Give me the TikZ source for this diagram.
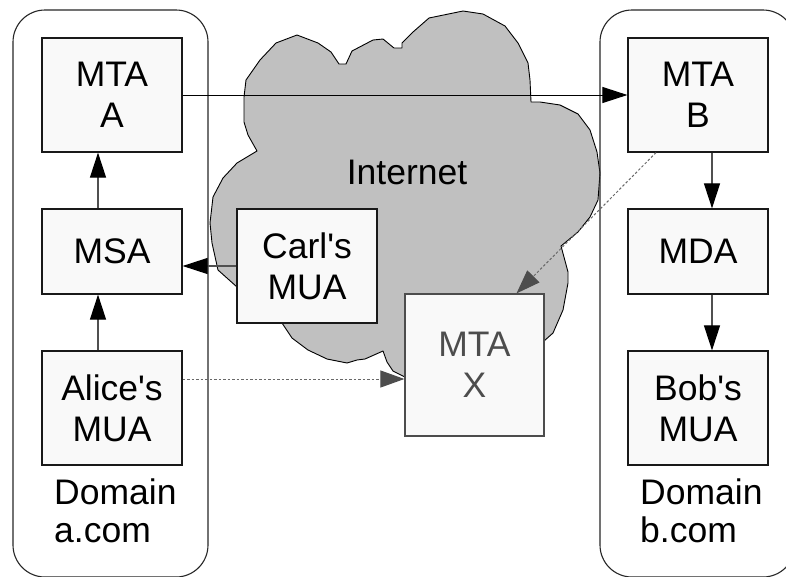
\documentclass[tikz,border=0pt]{standalone}
\usepackage{fontspec}
\setmainfont{Liberation Sans}
\usetikzlibrary{arrows.meta}
\definecolor{boxfill}{HTML}{F9F9F9}
\definecolor{cloudfill}{HTML}{C0C0C0}
\definecolor{dimgrey}{HTML}{4D4D4D}
\definecolor{linegrey}{HTML}{505050}
\newcommand{\apos}{\textquotesingle}
\tikzset{
  lbl/.style={font=\fontsize{35.5}{41}\selectfont},
  unit/.style={lbl, draw=black!90, line width=1.2pt, fill=boxfill,
    minimum width=140pt, minimum height=114pt, inner sep=0pt, align=center},
  shortunit/.style={unit, minimum height=85pt},
  remote/.style={unit, draw=dimgrey, text=dimgrey,
    minimum width=139pt, minimum height=142pt},
  maildomain/.style={draw=black!85, line width=1.1pt, rounded corners=32pt},
  domtext/.style={font=\fontsize{35.5}{38}\selectfont, align=left,
    inner sep=0pt, anchor=north west},
  flow/.style={draw=linegrey, line width=1.1pt,
    -{Triangle[length=25pt,width=16pt,color=black]}},
  relay/.style={draw=dimgrey!85, line width=1pt, dash pattern=on 2.5pt off 2pt,
    -{Triangle[length=24pt,width=17pt,color=dimgrey]}}
}
\begin{document}
\begin{tikzpicture}[x=1pt,y=-1pt]
\useasboundingbox (0,0) rectangle (786,576);
\clip (0,0) rectangle (786,576);

% the Internet cloud
\filldraw[fill=cloudfill, draw=black, line width=0.9pt, line join=round]
  (246,80) -- (260,60) -- (276,43) -- (297,35) -- (318,43) -- (331,52)
  -- (339,64) -- (346,64) -- (352,51) -- (373,40) -- (383,39) -- (394,48)
  -- (402,48) -- (402,43) -- (413,32) -- (429,18) -- (463,11) -- (483,14)
  -- (505,26) -- (518,43) -- (528,63) -- (530,80) -- (531,102) -- (540,102)
  -- (560,105) -- (578,114) -- (590,130) -- (597,152) -- (600,173)
  -- (598,200) -- (590,217) -- (578,232) -- (561,246) -- (568,272)
  -- (568,283) -- (563,310) -- (553,333) -- (544,341) -- (405,377)
  -- (393,371) -- (387,362) -- (383,351) -- (365,359) -- (357,360)
  -- (347,363) -- (327,359) -- (308,350) -- (292,338) -- (282,323)
  -- (237,287) -- (218,270) -- (212,243) -- (210,223) -- (213,197)
  -- (223,178) -- (237,163) -- (257,151) -- (248,135) -- (244,122)
  -- (244,97) -- cycle;
\node[lbl] (inet) at (407,172) {Internet};

% the two mail domains
\draw[maildomain] (13,10) rectangle (208,577);
\draw[maildomain] (600,10) rectangle (795,577);
\node[domtext] (doma) at (54,479) {Domain\\a.com};
\node[domtext] (domb) at (640,479) {Domain\\b.com};

% agents
\node[unit] (mtaa) at (112,95) {MTA\\A};
\node[shortunit] (msa) at (112,251.5) {MSA};
\node[unit] (alice) at (112,408) {Alice\apos s\\MUA};
\node[unit] (mtab) at (698,95) {MTA\\B};
\node[shortunit] (mda) at (698,251.5) {MDA};
\node[unit] (bob) at (698,408) {Bob\apos s\\MUA};
\node[unit] (carl) at (307,266) {Carl\apos s\\MUA};
\node[remote] (mtax) at (474.5,365) {MTA\\X};

% mail flow
\draw[flow, draw=black, line width=1pt] (mtaa.east) -- (mtab.west);
\draw[flow] ([xshift=-14pt]msa.north) -- ([xshift=-14pt]mtaa.south);
\draw[flow] ([xshift=-14pt]alice.north) -- ([xshift=-14pt]msa.south);
\draw[flow] (carl.west) -- (carl.west -| msa.east);
\draw[flow] ([xshift=14pt]mtab.south) -- ([xshift=14pt]mda.north);
\draw[flow] ([xshift=14pt]mda.south) -- ([xshift=14pt]bob.north);

% relaying through a third party
\draw[relay] ([xshift=-42pt]mtab.south) -- ([xshift=42pt]mtax.north);
\draw[relay] ([yshift=29pt]alice.east) -- ([yshift=29pt]alice.east -| mtax.west);
\end{tikzpicture}
\end{document}
